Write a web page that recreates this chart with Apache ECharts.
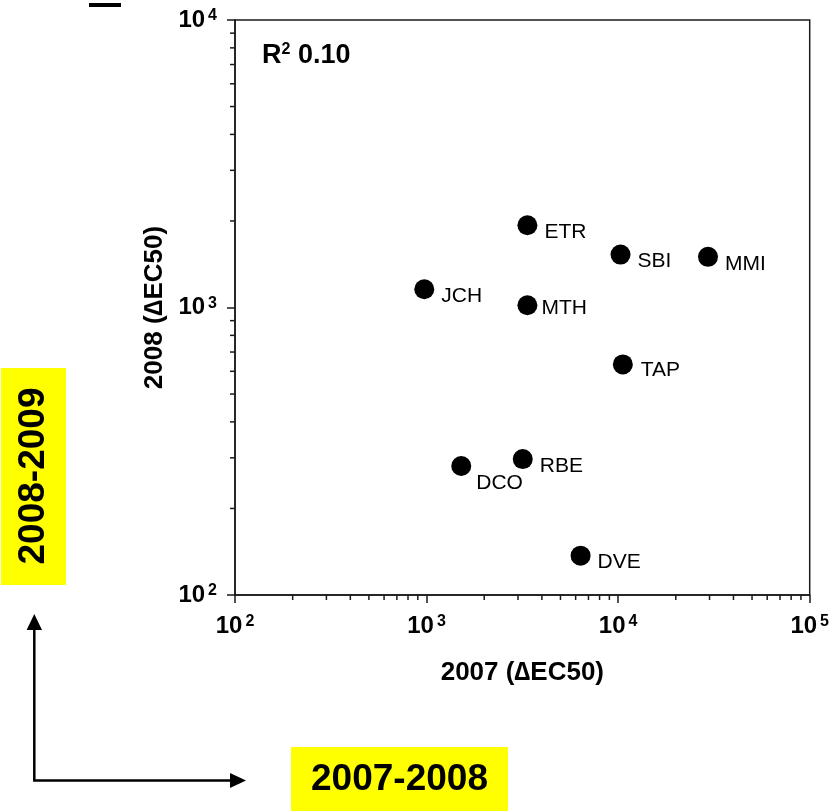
<!DOCTYPE html>
<html>
<head>
<meta charset="utf-8">
<script src="https://cdn.jsdelivr.net/npm/echarts@6/dist/echarts.min.js"></script>
<style>
  html, body { margin: 0; padding: 0; background: #fff; }
  #chart { width: 832px; height: 811px; }
</style>
</head>
<body>
<div id="chart"></div>
<script>
// Site codes and their ΔEC50 values in the two survey years
const sites = ['ETR', 'SBI', 'MMI', 'JCH', 'MTH', 'TAP', 'DCO', 'RBE', 'DVE'];
const delta2007 = [3360, 10290, 29450, 973, 3360, 10580, 1517, 3177, 6368];
const delta2008 = [1932, 1528, 1500, 1157, 1018, 634, 281, 297, 137];

// Minor tick values on the logarithmic axes
const xMinorTicks = [200, 300, 400, 500, 600, 700, 800, 900,
                     2000, 3000, 4000, 5000, 6000, 7000, 8000, 9000,
                     20000, 30000, 40000, 50000, 60000, 70000, 80000, 90000];
const yMinorTicks = [200, 300, 400, 500, 600, 700, 800, 900,
                     2000, 3000, 4000, 5000, 6000, 7000, 8000, 9000];

const rSquared = '0.10';
const xTitle = '2007 (\u2206EC50)';
const yTitle = '2008 (\u2206EC50)';
const xPeriod = '2007-2008';
const yPeriod = '2008-2009';

const FONT = '"Liberation Sans", Arial, sans-serif';
const INK = '#000';
const LINE = '#1a1a1a';

// Per-site label nudges (pixels, relative to the default right-side placement)
const labelNudge = {
  MTH: [-1, 3],
  DCO: [0, 17],
  TAP: [3, 6]
};

const chart = echarts.init(document.getElementById('chart'));

const powerLabel = v => '{b|10}{s|' + Math.round(Math.log10(v)) + '}';
const powerRich = {
  b: { fontFamily: FONT, fontWeight: 'bold', fontSize: 24, color: INK, lineHeight: 24 },
  s: { fontFamily: FONT, fontWeight: 'bold', fontSize: 16, color: INK, verticalAlign: 'top', padding: [0, 0, 0, 3], lineHeight: 8 }
};

function minorTick(axis) {
  return function (params, api) {
    const p = api.coord([api.value(0), api.value(1)]);
    const shape = axis === 'x'
      ? { x1: p[0], y1: p[1], x2: p[0], y2: p[1] + 5 }
      : { x1: p[0] - 5, y1: p[1], x2: p[0], y2: p[1] };
    return { type: 'line', shape: shape, style: { stroke: LINE, lineWidth: 1.5 } };
  };
}

chart.setOption({
  backgroundColor: '#fff',
  animation: false,
  grid: {
    left: 235, right: 21, top: 20, bottom: 216,
    show: true, borderColor: LINE, borderWidth: 1.5, backgroundColor: 'transparent'
  },
  xAxis: {
    type: 'log', logBase: 10, min: 100, max: 100000,
    splitLine: { show: false },
    axisLine: { lineStyle: { color: LINE, width: 1.5 } },
    axisTick: { show: true, length: 8, lineStyle: { color: LINE, width: 1.5 } },
    axisLabel: { margin: 19, formatter: powerLabel, rich: powerRich },
    name: xTitle, nameLocation: 'middle', nameGap: 65,
    nameTextStyle: { fontFamily: FONT, fontWeight: 'bold', fontSize: 26, color: INK }
  },
  yAxis: {
    type: 'log', logBase: 10, min: 100, max: 10000,
    splitLine: { show: false },
    axisLine: { lineStyle: { color: LINE, width: 1.5 } },
    axisTick: { show: true, length: 8, lineStyle: { color: LINE, width: 1.5 } },
    axisLabel: { margin: 18, formatter: powerLabel, rich: powerRich },
    name: yTitle, nameLocation: 'middle', nameGap: 64, nameRotate: 90,
    nameTextStyle: { fontFamily: FONT, fontWeight: 'bold', fontSize: 26, color: INK }
  },
  series: [
    {
      type: 'scatter',
      symbol: 'circle',
      symbolSize: 20,
      itemStyle: { color: '#000', opacity: 1 },
      label: {
        show: true, position: 'right', distance: 5,
        fontFamily: FONT, fontSize: 21, color: INK,
        formatter: p => p.name
      },
      emphasis: { disabled: true },
      data: sites.map((s, i) => ({
        name: s,
        value: [delta2007[i], delta2008[i]],
        label: { offset: labelNudge[s] || [2, 7] }
      }))
    },
    {
      type: 'custom', silent: true, clip: false,
      data: xMinorTicks.map(v => [v, 100]),
      renderItem: minorTick('x')
    },
    {
      type: 'custom', silent: true, clip: false,
      data: yMinorTicks.map(v => [100, v]),
      renderItem: minorTick('y')
    }
  ],
  graphic: [
    // short rule at the top left
    { type: 'rect', shape: { x: 89, y: 3, width: 32, height: 4 }, style: { fill: '#000' } },
    // coefficient of determination
    {
      type: 'text', x: 262, y: 56,
      style: {
        text: '{r|R}{s|2}{r| ' + rSquared + '}',
        verticalAlign: 'middle',
        rich: {
          r: { fontFamily: FONT, fontWeight: 'bold', fontSize: 27, fill: INK, lineHeight: 28 },
          s: { fontFamily: FONT, fontWeight: 'bold', fontSize: 16, fill: INK, verticalAlign: 'top', lineHeight: 14 }
        }
      }
    },
    // period tags
    { type: 'rect', shape: { x: 1, y: 368, width: 65, height: 217 }, style: { fill: '#ffff00' } },
    {
      type: 'text', x: 33.5, y: 476, rotation: Math.PI / 2,
      style: { text: yPeriod, align: 'center', verticalAlign: 'middle', fontFamily: FONT, fontWeight: 'bold', fontSize: 37, fill: '#000' }
    },
    { type: 'rect', shape: { x: 291, y: 747, width: 217, height: 64 }, style: { fill: '#ffff00' } },
    {
      type: 'text', x: 399.5, y: 780,
      style: { text: xPeriod, align: 'center', verticalAlign: 'middle', fontFamily: FONT, fontWeight: 'bold', fontSize: 37, fill: '#000' }
    },
    // direction arrows
    {
      type: 'polyline',
      shape: { points: [[34.3, 628], [34.3, 780.5], [232, 780.5]] },
      style: { stroke: '#000', lineWidth: 2.5, fill: null }
    },
    { type: 'polygon', shape: { points: [[34.3, 614], [26.6, 630], [42, 630]] }, style: { fill: '#000' } },
    { type: 'polygon', shape: { points: [[246, 780.5], [230, 773], [230, 788]] }, style: { fill: '#000' } }
  ]
});
</script>
</body>
</html>
